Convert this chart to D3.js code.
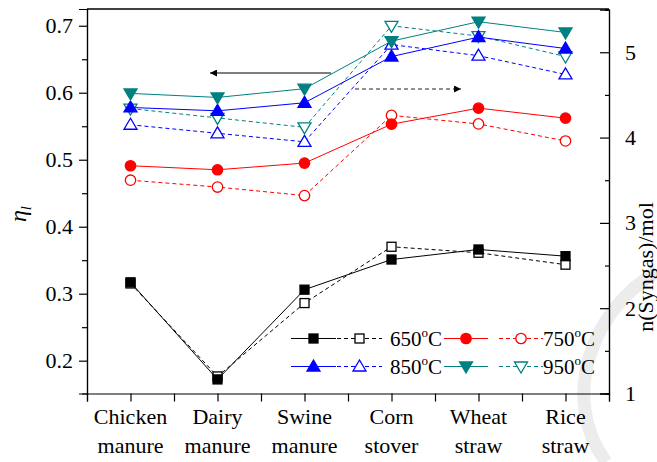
<!DOCTYPE html>
<html>
<head>
<meta charset="utf-8">
<script src="https://cdn.jsdelivr.net/npm/d3@7/dist/d3.min.js"></script>
<style>
  body { margin: 0; background: #fff; }
  svg text { font-family: "Liberation Serif", Tinos, "Times New Roman", Times, "DejaVu Serif", serif; }
  .axis path, .axis line { stroke: #000; stroke-width: 1.2; }
  .axis text { font-size: 22px; fill: #000; }
</style>
</head>
<body>
<svg id="chart" width="657" height="462"></svg>
<script>
// categories (x) and series
const categories = [
  ['Chicken', 'manure'], ['Dairy', 'manure'], ['Swine', 'manure'],
  ['Corn', 'stover'], ['Wheat', 'straw'], ['Rice', 'straw']
];
const temps = ['650', '750', '850', '950'];

// η_l (left axis, solid lines, filled markers)
const eta650 = [0.317, 0.172, 0.306, 0.351, 0.366, 0.356];
const eta750 = [0.491, 0.485, 0.495, 0.553, 0.577, 0.562];
const eta850 = [0.578, 0.573, 0.585, 0.654, 0.683, 0.666];
const eta950 = [0.599, 0.593, 0.606, 0.677, 0.706, 0.690];

// n(Syngas)/mol (right axis, dashed lines, hollow markers)
const syn650 = [2.29, 1.20, 2.06, 2.72, 2.65, 2.51];
const syn750 = [3.50, 3.42, 3.32, 4.26, 4.16, 3.96];
const syn850 = [4.15, 4.05, 3.95, 5.09, 4.96, 4.74];
const syn950 = [4.34, 4.23, 4.12, 5.31, 5.19, 4.95];

const leftTicks = [0.2, 0.3, 0.4, 0.5, 0.6, 0.7];
const rightTicks = [1, 2, 3, 4, 5];

const colors = ['#000000', '#ff0000', '#0000ff', '#008080'];
const symbols = ['square', 'circle', 'triUp', 'triDown'];

const SERIF = '"Liberation Serif", Tinos, "Times New Roman", Times, "DejaVu Serif", serif';

// ─── Layout ──────────────────────────────────────────────────────────────────

const svg = d3.select('#chart').attr('font-family', SERIF);
const L = 87, R = 609, T = 9, B = 393.5;

const x = d3.scaleLinear().domain([0.5, 6.5]).range([L, R]);
const yL = d3.scaleLinear().domain([0.151, 0.725]).range([B, T]);
const yR = d3.scaleLinear().domain([1, 5.5]).range([B, 9.6]);

// watermark arc (light grey, behind everything)
svg.append('path')
  .attr('d', 'M 657 272 C 590 310, 560 400, 606 462')
  .attr('fill', 'none').attr('stroke', '#ececec').attr('stroke-width', 13);

// ─── Axes ────────────────────────────────────────────────────────────────────

const gL = svg.append('g').attr('class', 'axis').attr('transform', `translate(${L},0)`)
  .call(d3.axisLeft(yL).tickValues(leftTicks).tickSize(8).tickPadding(6).tickFormat(d3.format('.1f')));
svg.append('g').attr('class', 'axis').attr('transform', `translate(${L},0)`)
  .call(d3.axisLeft(yL).tickValues(d3.range(0.25, 0.7, 0.1)).tickSize(5).tickFormat(''));

const gR = svg.append('g').attr('class', 'axis').attr('transform', `translate(${R},0)`)
  .call(d3.axisRight(yR).tickValues(rightTicks).tickSize(-9).tickPadding(16).tickFormat(d3.format('d')));
svg.append('g').attr('class', 'axis').attr('transform', `translate(${R},0)`)
  .call(d3.axisRight(yR).tickValues(d3.range(1.5, 5.6, 1)).tickSize(-4).tickFormat(''));

const gB = svg.append('g').attr('class', 'axis').attr('transform', `translate(0,${B})`)
  .call(d3.axisBottom(x).tickValues(d3.range(0.5, 6.6, 0.5)).tickSize(8).tickFormat(''));

svg.selectAll('.axis').attr('font-family', SERIF);
[gL, gR, gB].forEach(g => g.select('.domain').attr('stroke-width', 1.4));

// top border
svg.append('line').attr('x1', L).attr('x2', R).attr('y1', T).attr('y2', T)
  .attr('stroke', '#000').attr('stroke-width', 1.4);

// category labels (two lines each)
const catG = svg.append('g').attr('font-size', 22).attr('text-anchor', 'middle');
categories.forEach((c, i) => {
  const t = catG.append('text').attr('x', x(i + 1)).attr('y', 424);
  t.append('tspan').attr('x', x(i + 1)).text(c[0]);
  t.append('tspan').attr('x', x(i + 1)).attr('dy', 29).text(c[1]);
});

// axis titles
const etaT = svg.append('text')
  .attr('transform', 'translate(26,214) rotate(-90)')
  .attr('text-anchor', 'middle').attr('font-size', 24).attr('font-style', 'italic');
etaT.append('tspan').text('η');
etaT.append('tspan').attr('font-size', 15).attr('dy', 5).text('l');

svg.append('text')
  .attr('transform', 'translate(653,267) rotate(-90)')
  .attr('text-anchor', 'middle').attr('font-size', 22)
  .text('n(Syngas)/mol');

// ─── Markers ─────────────────────────────────────────────────────────────────

function marker(g, kind, cx, cy, color, filled) {
  const fill = filled ? color : '#fff';
  if (kind === 'square') {
    g.append('rect').attr('x', cx - 4.5).attr('y', cy - 4.5).attr('width', 9).attr('height', 9)
      .attr('fill', fill).attr('stroke', color).attr('stroke-width', 1.3);
  } else if (kind === 'circle') {
    g.append('circle').attr('cx', cx).attr('cy', cy).attr('r', 5.2)
      .attr('fill', fill).attr('stroke', color).attr('stroke-width', 1.3);
  } else {
    const s = kind === 'triUp' ? 1 : -1;
    const pts = [[cx, cy - 6.5 * s], [cx - 6.5, cy + 4.5 * s], [cx + 6.5, cy + 4.5 * s]];
    g.append('polygon').attr('points', pts.map(p => p.join(',')).join(' '))
      .attr('fill', fill).attr('stroke', color).attr('stroke-width', 1.3);
  }
}

const etaSeries = [eta650, eta750, eta850, eta950];
const synSeries = [syn650, syn750, syn850, syn950];

const plot = svg.append('g');

synSeries.forEach((vals, k) => {
  const line = d3.line().x((d, i) => x(i + 1)).y(d => yR(d));
  plot.append('path').datum(vals).attr('d', line)
    .attr('fill', 'none').attr('stroke', colors[k]).attr('stroke-width', 1)
    .attr('stroke-dasharray', '4,3');
});
etaSeries.forEach((vals, k) => {
  const line = d3.line().x((d, i) => x(i + 1)).y(d => yL(d));
  plot.append('path').datum(vals).attr('d', line)
    .attr('fill', 'none').attr('stroke', colors[k]).attr('stroke-width', 1);
});
synSeries.forEach((vals, k) => {
  vals.forEach((v, i) => marker(plot, symbols[k], x(i + 1), yR(v), colors[k], false));
});
etaSeries.forEach((vals, k) => {
  vals.forEach((v, i) => marker(plot, symbols[k], x(i + 1), yL(v), colors[k], true));
});

// ─── Arrows (which axis each set belongs to) ─────────────────────────────────

const defs = svg.append('defs');
defs.append('marker').attr('id', 'ah').attr('viewBox', '0 -5 10 10')
  .attr('refX', 10).attr('refY', 0).attr('markerWidth', 11).attr('markerHeight', 7)
  .attr('markerUnits', 'userSpaceOnUse').attr('orient', 'auto')
  .append('path').attr('d', 'M0,-5L10,0L0,5Z').attr('fill', '#000');

svg.append('line').attr('x1', 331).attr('x2', 210).attr('y1', 73).attr('y2', 73)
  .attr('stroke', '#000').attr('stroke-width', 1.2).attr('marker-end', 'url(#ah)');
svg.append('line').attr('x1', 355).attr('x2', 461).attr('y1', 89).attr('y2', 89)
  .attr('stroke', '#222').attr('stroke-width', 1.2).attr('stroke-dasharray', '4,3')
  .attr('marker-end', 'url(#ah)');

// ─── Legend ──────────────────────────────────────────────────────────────────

const legend = svg.append('g');
const legRows = [338.5, 366.5];
const legCols = [291, 444];
temps.forEach((t, k) => {
  const cy = legRows[Math.floor(k / 2)];
  const x0 = legCols[k % 2];
  const solidX = k % 2 === 0 ? [x0, x0 + 45] : [x0, x0 + 44];
  const dashX = k % 2 === 0 ? [x0 + 46, x0 + 91] : [x0 + 55, x0 + 99];
  legend.append('line').attr('x1', solidX[0]).attr('x2', solidX[1]).attr('y1', cy).attr('y2', cy)
    .attr('stroke', colors[k]).attr('stroke-width', 1);
  legend.append('line').attr('x1', dashX[0]).attr('x2', dashX[1]).attr('y1', cy).attr('y2', cy)
    .attr('stroke', colors[k]).attr('stroke-width', 1).attr('stroke-dasharray', '4,3');
  marker(legend, symbols[k], (solidX[0] + solidX[1]) / 2, cy, colors[k], true);
  marker(legend, symbols[k], (dashX[0] + dashX[1]) / 2, cy, colors[k], false);
  const tx = legend.append('text').attr('x', k % 2 === 0 ? 390 : 543).attr('y', cy + 7.5)
    .attr('font-size', 21);
  tx.append('tspan').text(t);
  tx.append('tspan').attr('font-size', 13).attr('dy', -9).text('o');
  tx.append('tspan').attr('dy', 9).text('C');
});
</script>
</body>
</html>
